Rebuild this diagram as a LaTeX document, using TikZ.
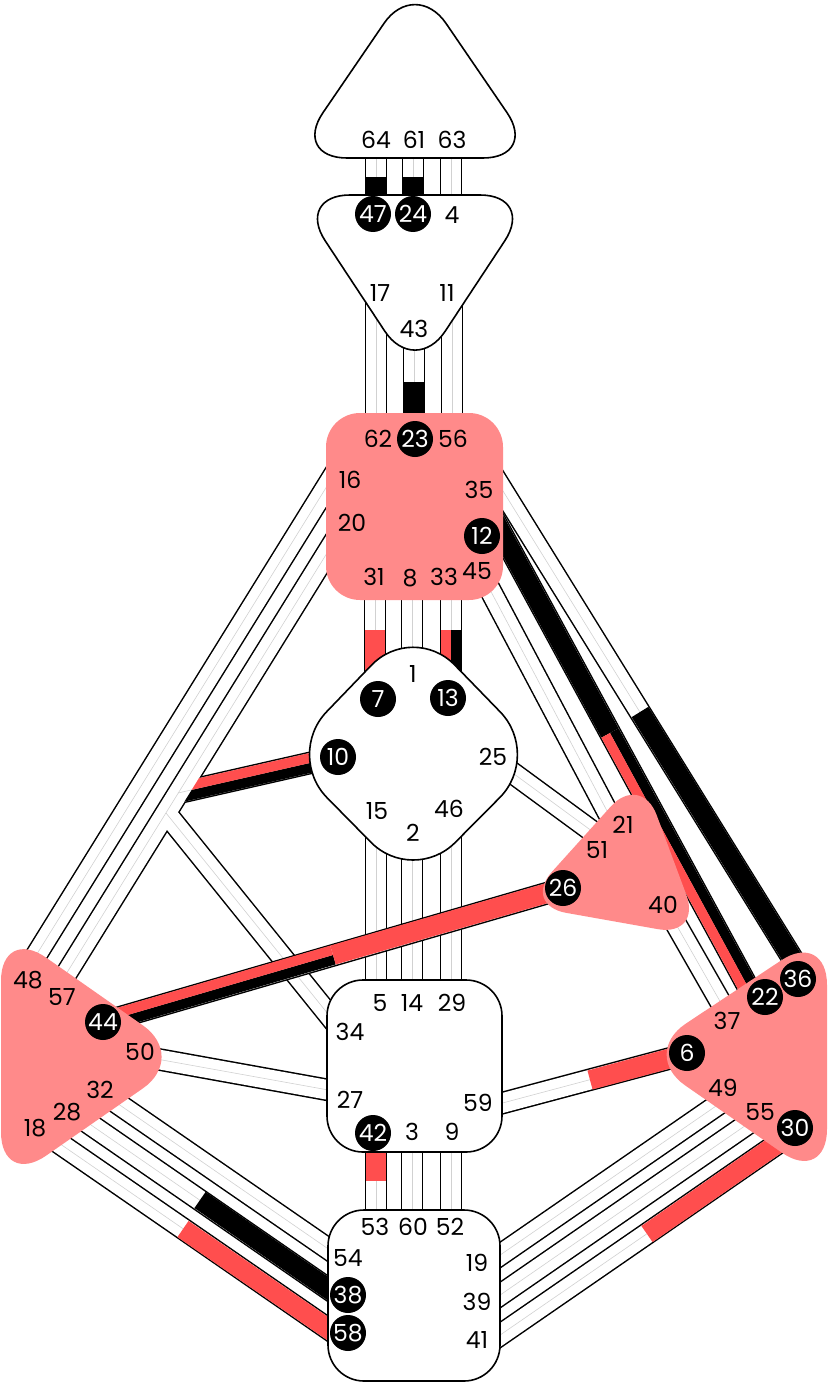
\documentclass[tikz,border=0pt]{standalone}
\usepackage{fontspec}
\setmainfont{Poppins}
\usetikzlibrary{calc}
\definecolor{hdpink}{RGB}{255,138,138}
\definecolor{hdred}{RGB}{255,78,78}
\tikzset{
  bandout/.style={line width=22.6pt, black},
  bandin/.style={line width=19.6pt, white},
  bandmid/.style={line width=0.6pt, black!18},
  ctrw/.style={draw=black, line width=1.6pt, fill=white},
  ctrp/.style={fill=hdpink},
  gt/.style={font=\fontsize{23.5}{23.5}\selectfont, inner sep=0pt},
  ga/.style={circle, fill=black, text=white, minimum size=36pt, inner sep=0pt, font=\fontsize{23.5}{23.5}\selectfont},
}
\newcommand{\band}[2]{\draw[bandout] (#1) -- (#2); \draw[bandin] (#1) -- (#2); \draw[bandmid] (#1) -- (#2);}
\newcommand{\fullc}[3]{\draw[line width=19.6pt, #3] (#1) -- (#2);}
\newcommand{\splitc}[4]{%
  \draw[line width=9.8pt, #3] ($(#1)!4.9pt!90:(#2)$) -- ($(#2)!4.9pt!-90:(#1)$);%
  \draw[line width=9.8pt, #4] ($(#1)!4.9pt!-90:(#2)$) -- ($(#2)!4.9pt!90:(#1)$);}
\begin{document}
\begin{tikzpicture}[x=1pt,y=-1pt]
\useasboundingbox (0,0) rectangle (828,1383);
% ---------- channel end points
\coordinate (h64) at (376,140); \coordinate (a47) at (376,212); \coordinate (m64) at (376,177);
\coordinate (h61) at (413,140); \coordinate (a24) at (413,212); \coordinate (m61) at (413,177);
\coordinate (h63) at (451,140); \coordinate (a4) at (451,212);
\coordinate (a17) at (376,280); \coordinate (t62) at (376,430);
\coordinate (a43) at (414,330); \coordinate (t23) at (414,430); \coordinate (m23) at (414,382);
\coordinate (a11) at (452,280); \coordinate (t56) at (452,430);
\coordinate (t31) at (375,580); \coordinate (g7) at (375,705); \coordinate (m7) at (375,630);
\coordinate (t8) at (412,580); \coordinate (g1) at (412,700);
\coordinate (t33) at (451,580); \coordinate (g13) at (451,705); \coordinate (m13) at (451,630);
\coordinate (g15) at (376,800); \coordinate (s5) at (376,1000);
\coordinate (g2) at (412,820); \coordinate (s14) at (412,1000);
\coordinate (g46) at (451,800); \coordinate (s29) at (451,1000);
\coordinate (s42) at (376,1140); \coordinate (r53) at (376,1225); \coordinate (m42) at (376,1181);
\coordinate (s3) at (412,1140); \coordinate (r60) at (412,1225);
\coordinate (s9) at (451,1140); \coordinate (r52) at (451,1225);
\coordinate (t16) at (343.2,460); \coordinate (sp48) at (14.6,990);
\coordinate (t20) at (347.5,520); \coordinate (sp57) at (50,1000);
\coordinate (g10) at (345,755); \coordinate (j10) at (178,793);
\coordinate (s34) at (345,1035); \coordinate (j34) at (166,813);
\coordinate (t45) at (478,567); \coordinate (h21) at (615,826);
\coordinate (t12) at (489,510); \coordinate (p22) at (755,1000); \coordinate (m12) at (610,733);
\coordinate (t35) at (490,470); \coordinate (p36) at (812,990); \coordinate (m36) at (640,712);
\coordinate (g25) at (495,760); \coordinate (h51) at (600,837);
\coordinate (h40) at (665,905); \coordinate (p37) at (725,1010);
\coordinate (sp50) at (140,1056); \coordinate (s27) at (345,1093);
\coordinate (s59) at (480,1109); \coordinate (p6) at (690,1053); \coordinate (m6) at (590,1080);
\coordinate (sp44) at (90,1026); \coordinate (h26) at (575,885); \coordinate (m44) at (333,955);
\coordinate (sp32) at (85,1081); \coordinate (r54) at (340,1257);
\coordinate (sp28) at (65,1107); \coordinate (r38) at (340,1297); \coordinate (m38) at (200,1200);
\coordinate (sp18) at (40,1130); \coordinate (r58) at (340,1337); \coordinate (m58) at (183,1229);
\coordinate (p49) at (745,1086); \coordinate (r19) at (490,1262);
\coordinate (p55) at (765,1112); \coordinate (r39) at (490,1302);
\coordinate (p30) at (790,1135); \coordinate (r41) at (490,1342); \coordinate (m30) at (647,1234);
% ---------- bands
\band{h64}{a47} \band{h61}{a24} \band{h63}{a4}
\band{a17}{t62} \band{a43}{t23} \band{a11}{t56}
\band{t31}{g7} \band{t8}{g1} \band{t33}{g13}
\band{g15}{s5} \band{g2}{s14} \band{g46}{s29}
\band{s42}{r53} \band{s3}{r60} \band{s9}{r52}
\band{t45}{h21} \band{t35}{p36} \band{t12}{p22}
\band{g25}{h51} \band{h40}{p37}
\band{sp50}{s27} \band{s59}{p6}
\band{sp32}{r54} \band{sp28}{r38} \band{sp18}{r58}
\band{p49}{r19} \band{p55}{r39} \band{p30}{r41}
\band{t16}{sp48}
% activations
\fullc{m64}{a47}{black} \fullc{m61}{a24}{black} \fullc{m23}{t23}{black}
\fullc{m7}{g7}{hdred} \splitc{m13}{g13}{black}{hdred}
\fullc{m12}{t12}{black} \splitc{m12}{p22}{black}{hdred}
\fullc{m36}{p36}{black}
\fullc{m6}{p6}{hdred} \fullc{m42}{s42}{hdred}
\fullc{m38}{r38}{black} \fullc{m58}{r58}{hdred} \fullc{m30}{p30}{hdred}
% integration channel: 20-57 with open joints for 10 and 34
\draw[bandout] (g10) -- (j10); \draw[bandout] (s34) -- (j34); \draw[bandout] (t20) -- (sp57);
\draw[bandin] (g10) -- (j10); \draw[bandin] (s34) -- (j34); \draw[bandin] (t20) -- (sp57);
\draw[bandmid] (g10) -- (j10); \draw[bandmid] (s34) -- (j34); \draw[bandmid] (t20) -- (sp57);
\begin{scope}
  \clip (309.4,600) -- (123.4,900) -- (420,900) -- (420,600) -- cycle;
  \splitc{g10}{j10}{black}{hdred}
\end{scope}
% 44-26 on top
\band{sp44}{h26}
\splitc{m44}{sp44}{black}{hdred} \fullc{m44}{h26}{hdred}
% ---------- centres
\draw[ctrw, rounded corners=55pt] (415,158) -- (538,158) -- (415,-22) -- (292,158) -- (415,158);
\draw[ctrw, rounded corners=55pt] (415,195) -- (535,195) -- (415,377) -- (295,195) -- (415,195);
\fill[ctrp, rounded corners=34pt] (326,413) rectangle (503,600);
\draw[ctrw, rounded corners=60pt] (477.5,688.5) -- (542,755) -- (413,885) -- (285,755) -- (413,622) -- (477.5,688.5);
\fill[ctrp, rounded corners=45pt] (671.5,855) -- (702,937) -- (522,905) -- (641,773) -- (671.5,855);
\fill[ctrp, rounded corners=55pt] (1,1056) -- (1,926) -- (188,1057) -- (1,1187) -- (1,1056);
\fill[ctrp, rounded corners=55pt] (827,1056) -- (827,930) -- (640,1054) -- (827,1184) -- (827,1056);
\draw[ctrw, rounded corners=36pt] (327,980) rectangle (502,1152);
\draw[ctrw, rounded corners=36pt] (328,1210) rectangle (500,1381);
% ---------- gate labels
\node[gt] (n64) at (376,140) {64}; \node[gt] (n61) at (414,140) {61}; \node[gt] (n63) at (452,140) {63};
\node[ga] (n47) at (373,214) {47}; \node[ga] (n24) at (413,214) {24}; \node[gt] (n4) at (452,215) {4};
\node[gt] (n17) at (380,293) {17}; \node[gt] (n11) at (447,293) {11}; \node[gt] (n43) at (414,329) {43};
\node[gt] (n62) at (378,439) {62}; \node[ga] (n23) at (415,439) {23}; \node[gt] (n56) at (453,439) {56};
\node[gt] (n16) at (350,480) {16}; \node[gt] (n35) at (479,490) {35};
\node[gt] (n20) at (352,523) {20}; \node[ga] (n12) at (482,536) {12};
\node[gt] (n31) at (374,577) {31}; \node[gt] (n8) at (410,578) {8}; \node[gt] (n33) at (444,577) {33}; \node[gt] (n45) at (477,571) {45};
\node[gt] (n1) at (413,674) {1}; \node[ga] (n7) at (378,699) {7}; \node[ga] (n13) at (448,698) {13};
\node[ga] (n10) at (338,757) {10}; \node[gt] (n25) at (493,757) {25};
\node[gt] (n15) at (377,811) {15}; \node[gt] (n46) at (449,809) {46}; \node[gt] (n2) at (413,833) {2};
\node[gt] (n21) at (623,825) {21}; \node[gt] (n51) at (597,850) {51}; \node[ga] (n26) at (563,888) {26}; \node[gt] (n40) at (663,905) {40};
\node[gt] (n48) at (28,980) {48}; \node[gt] (n57) at (62,997) {57}; \node[ga] (n44) at (103,1022) {44}; \node[gt] (n50) at (140,1052) {50};
\node[gt] (n32) at (100,1090) {32}; \node[gt] (n28) at (67,1112) {28}; \node[gt] (n18) at (35,1128) {18};
\node[ga] (n36) at (798,979) {36}; \node[ga] (n22) at (765,997) {22}; \node[gt] (n37) at (727,1021) {37}; \node[ga] (n6) at (687,1053) {6};
\node[gt] (n49) at (723,1088) {49}; \node[gt] (n55) at (760,1112) {55}; \node[ga] (n30) at (795,1128) {30};
\node[gt] (n5) at (380,1003) {5}; \node[gt] (n14) at (412,1003) {14}; \node[gt] (n29) at (452,1003) {29};
\node[gt] (n34) at (350,1032) {34}; \node[gt] (n27) at (350,1100) {27}; \node[gt] (n59) at (478,1103) {59};
\node[ga] (n42) at (373,1133) {42}; \node[gt] (n3) at (412,1132) {3}; \node[gt] (n9) at (452,1132) {9};
\node[gt] (n53) at (375,1227) {53}; \node[gt] (n60) at (413,1227) {60}; \node[gt] (n52) at (450,1227) {52};
\node[gt] (n54) at (348,1258) {54}; \node[gt] (n19) at (477,1263) {19};
\node[ga] (n38) at (348,1295) {38}; \node[gt] (n39) at (477,1302) {39};
\node[ga] (n58) at (348,1333) {58}; \node[gt] (n41) at (477,1340) {41};
\end{tikzpicture}
\end{document}
